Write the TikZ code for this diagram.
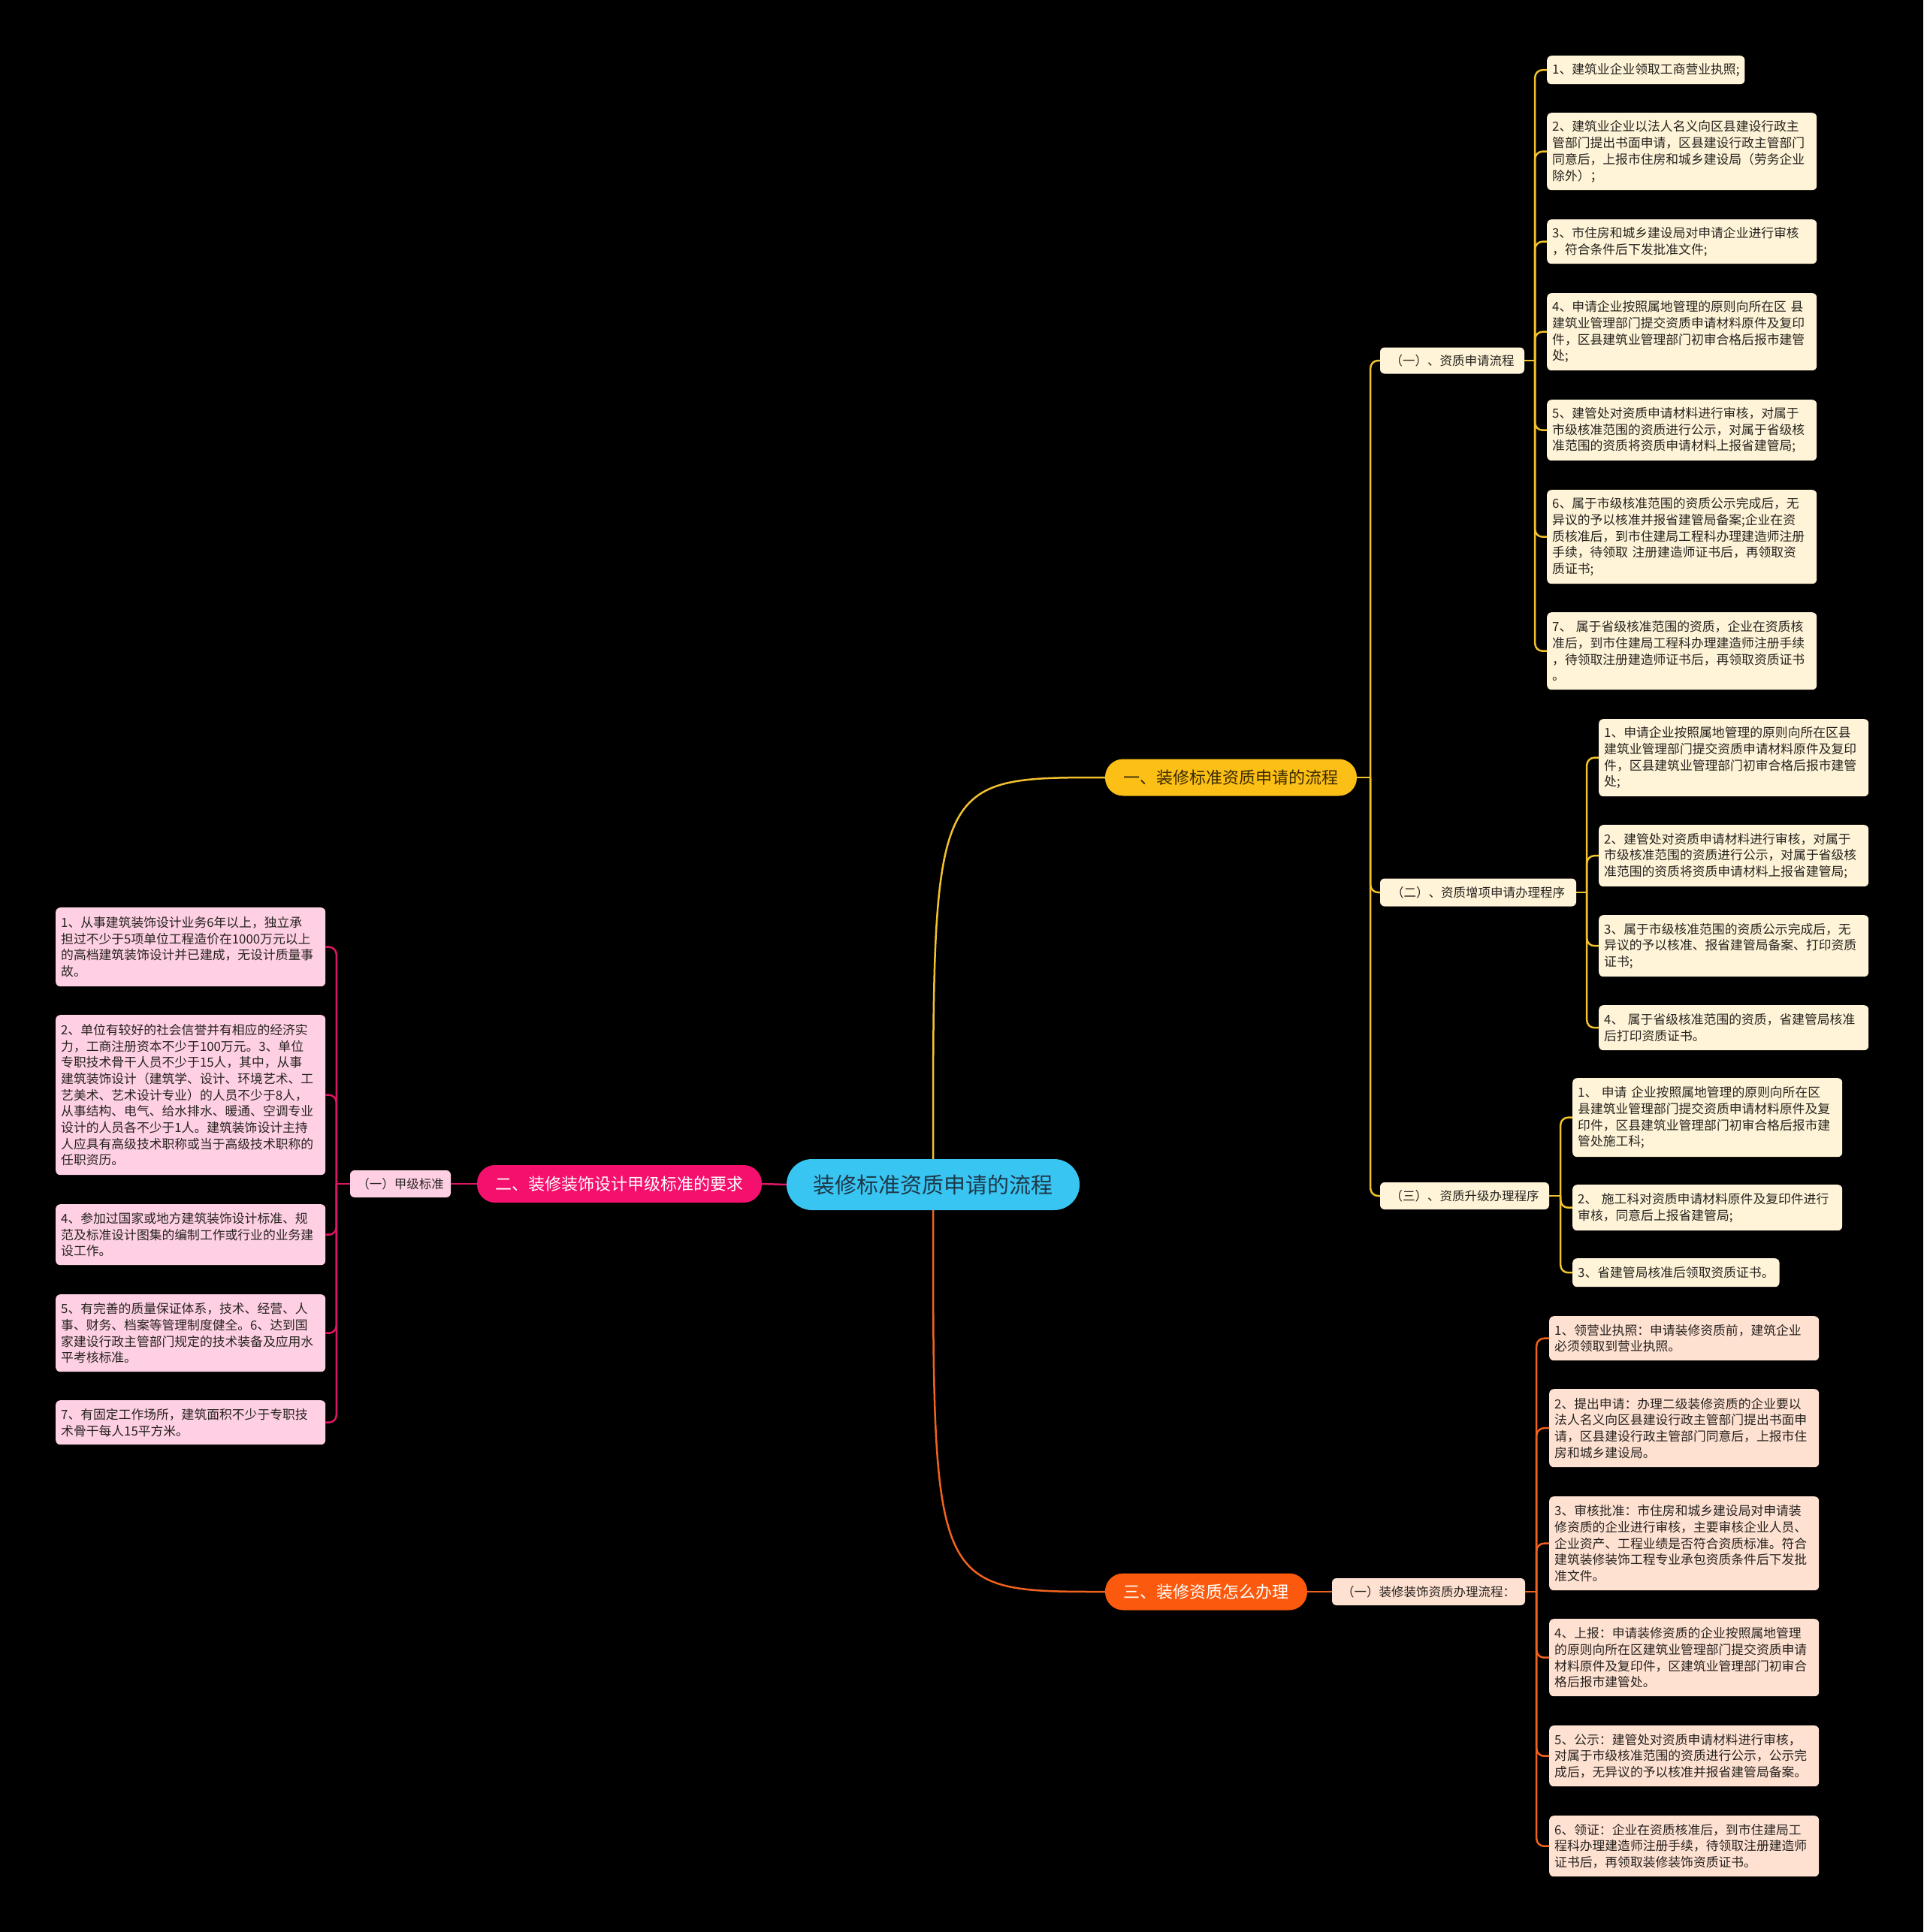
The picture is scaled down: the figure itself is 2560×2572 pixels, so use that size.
\documentclass[tikz,border=0pt]{standalone}
\usepackage{fontspec}
\setmainfont{Noto Sans CJK SC}
\definecolor{rootc}{HTML}{38C5F2}
\definecolor{roottxt}{HTML}{1E3848}
\definecolor{yel}{HTML}{FCBF16}
\definecolor{yeltxt}{HTML}{3A2A00}
\definecolor{ycream}{HTML}{FFF4D8}
\definecolor{ylinec}{HTML}{F2C12E}
\definecolor{pnk}{HTML}{F4106C}
\definecolor{plight}{HTML}{FFD0E4}
\definecolor{plinec}{HTML}{DC1663}
\definecolor{org}{HTML}{FB5A0E}
\definecolor{peach}{HTML}{FFE1D2}
\definecolor{olinec}{HTML}{F0631E}
\definecolor{txt}{HTML}{26231F}
\tikzset{
  every node/.style={font=\fontsize{16.8}{21.7}\selectfont},
  leaf/.style={draw=none, rounded corners=6pt, anchor=north west, inner xsep=7pt, inner ysep=4pt, align=left, text=txt},
  leafw/.style={leaf, text width=345pt},
  ybox/.style={fill=ycream},
  pbox/.style={fill=plight},
  obox/.style={fill=peach},
  midnode/.style={rounded corners=6pt, inner sep=0pt, text=txt, font=\fontsize{16.5}{20}\selectfont},
  lvone/.style={rounded corners=24pt, inner sep=0pt, minimum height=49pt, font=\fontsize{22}{26}\selectfont},
  yl/.style={draw=ylinec, line width=2.5pt},
  pl/.style={draw=plinec, line width=2.5pt},
  ol/.style={draw=olinec, line width=2.5pt},
  brk/.style={rounded corners=10pt}
}
\begin{document}
\begin{tikzpicture}[x=1pt,y=-1pt]
\fill[black] (0,0) rectangle (2560,2572);

% root and level one
\node[fill=rootc, text=roottxt, rounded corners=34pt, inner sep=0pt, minimum width=390pt, minimum height=68pt, font=\fontsize{29}{34}\selectfont] (root) at (1242,1577) {装修标准资质申请的流程};
\node[lvone, fill=yel, text=yeltxt, minimum width=335pt] (n1) at (1638.5,1035) {一、装修标准资质申请的流程};
\node[lvone, fill=pnk, text=white, minimum width=379pt, minimum height=50pt] (n2) at (824.5,1576) {二、装修装饰设计甲级标准的要求};
\node[lvone, fill=org, text=white, minimum width=269pt] (n3) at (1605.5,2119) {三、装修资质怎么办理};

% level two
\node[midnode, fill=ycream, minimum width=192pt, minimum height=35pt] (pa) at (1933,480) {（一）、资质申请流程};
\node[midnode, fill=ycream, minimum width=261pt, minimum height=37pt] (pb) at (1967.5,1188) {（二）、资质增项申请办理程序};
\node[midnode, fill=ycream, minimum width=225pt, minimum height=36pt] (pc) at (1949.5,1592) {（三）、资质升级办理程序};
\node[midnode, fill=peach, minimum width=257pt, minimum height=36pt] (pd) at (1901.5,2119) {（一）装修装饰资质办理流程：};
\node[midnode, fill=plight, minimum width=134pt, minimum height=36pt] (jia) at (533,1576) {（一）甲级标准};

% (一) 资质申请流程 children
\node[leaf, ybox, minimum height=38pt] (a1) at (2059,74) {1、建筑业企业领取工商营业执照;};
\node[leafw, ybox, minimum height=103pt] (a2) at (2059,150) {2、建筑业企业以法人名义向区县建设行政主\\管部门提出书面申请，区县建设行政主管部门\\同意后，上报市住房和城乡建设局（劳务企业\\除外）；};
\node[leafw, ybox, minimum height=59pt] (a3) at (2059,292) {3、市住房和城乡建设局对申请企业进行审核\\，符合条件后下发批准文件;};
\node[leafw, ybox, minimum height=103pt] (a4) at (2059,390) {4、申请企业按照属地管理的原则向所在区~县\\建筑业管理部门提交资质申请材料原件及复印\\件，区县建筑业管理部门初审合格后报市建管\\处;};
\node[leafw, ybox, minimum height=81pt] (a5) at (2059,532) {5、建管处对资质申请材料进行审核，对属于\\市级核准范围的资质进行公示，对属于省级核\\准范围的资质将资质申请材料上报省建管局;};
\node[leafw, ybox, minimum height=125pt] (a6) at (2059,652) {6、属于市级核准范围的资质公示完成后，无\\异议的予以核准并报省建管局备案;企业在资\\质核准后，到市住建局工程科办理建造师注册\\手续，待领取~注册建造师证书后，再领取资\\质证书;};
\node[leafw, ybox, minimum height=103pt] (a7) at (2059,815) {7、~属于省级核准范围的资质，企业在资质核\\准后，到市住建局工程科办理建造师注册手续\\，待领取注册建造师证书后，再领取资质证书\\。};

% (二) children
\node[leafw, ybox, minimum height=103pt] (b1) at (2128,957) {1、申请企业按照属地管理的原则向所在区县\\建筑业管理部门提交资质申请材料原件及复印\\件，区县建筑业管理部门初审合格后报市建管\\处;};
\node[leafw, ybox, minimum height=82pt] (b2) at (2128,1098) {2、建管处对资质申请材料进行审核，对属于\\市级核准范围的资质进行公示，对属于省级核\\准范围的资质将资质申请材料上报省建管局;};
\node[leafw, ybox, minimum height=82pt] (b3) at (2128,1218) {3、属于市级核准范围的资质公示完成后，无\\异议的予以核准、报省建管局备案、打印资质\\证书;};
\node[leafw, ybox, minimum height=60pt] (b4) at (2128,1338) {4、~属于省级核准范围的资质，省建管局核准\\后打印资质证书。};

% (三) children
\node[leafw, ybox, minimum height=105pt] (c1) at (2093,1435) {1、~申请~企业按照属地管理的原则向所在区\\县建筑业管理部门提交资质申请材料原件及复\\印件，区县建筑业管理部门初审合格后报市建\\管处施工科;};
\node[leafw, ybox, minimum height=61pt] (c2) at (2093,1577) {2、~施工科对资质申请材料原件及复印件进行\\审核，同意后上报省建管局;};
\node[leaf, ybox, minimum height=38pt] (c3) at (2093,1675) {3、省建管局核准后领取资质证书。};

% 三 children
\node[leafw, obox, minimum height=59pt] (d1) at (2062,1752) {1、领营业执照：申请装修资质前，建筑企业\\必须领取到营业执照。};
\node[leafw, obox, minimum height=104pt] (d2) at (2062,1849) {2、提出申请：办理二级装修资质的企业要以\\法人名义向区县建设行政主管部门提出书面申\\请，区县建设行政主管部门同意后，上报市住\\房和城乡建设局。};
\node[leafw, obox, minimum height=125pt] (d3) at (2062,1992) {3、审核批准：市住房和城乡建设局对申请装\\修资质的企业进行审核，主要审核企业人员、\\企业资产、工程业绩是否符合资质标准。符合\\建筑装修装饰工程专业承包资质条件后下发批\\准文件。};
\node[leafw, obox, minimum height=103pt] (d4) at (2062,2155) {4、上报：申请装修资质的企业按照属地管理\\的原则向所在区建筑业管理部门提交资质申请\\材料原件及复印件，区建筑业管理部门初审合\\格后报市建管处。};
\node[leafw, obox, minimum height=81pt] (d5) at (2062,2297) {5、公示：建管处对资质申请材料进行审核，\\对属于市级核准范围的资质进行公示，公示完\\成后，无异议的予以核准并报省建管局备案。};
\node[leafw, obox, minimum height=81pt] (d6) at (2062,2417) {6、领证：企业在资质核准后，到市住建局工\\程科办理建造师注册手续，待领取注册建造师\\证书后，再领取装修装饰资质证书。};

% 二 children
\node[leafw, pbox, minimum height=105pt] (l1) at (74,1208) {1、从事建筑装饰设计业务6年以上，独立承\\担过不少于5项单位工程造价在1000万元以上\\的高档建筑装饰设计并已建成，无设计质量事\\故。};
\node[leafw, pbox, minimum height=213pt] (l2) at (74,1351) {2、单位有较好的社会信誉并有相应的经济实\\力，工商注册资本不少于100万元。3、单位\\专职技术骨干人员不少于15人，其中，从事\\建筑装饰设计（建筑学、设计、环境艺术、工\\艺美术、艺术设计专业）的人员不少于8人，\\从事结构、电气、给水排水、暖通、空调专业\\设计的人员各不少于1人。建筑装饰设计主持\\人应具有高级技术职称或当于高级技术职称的\\任职资历。};
\node[leafw, pbox, minimum height=81pt] (l3) at (74,1603) {4、参加过国家或地方建筑装饰设计标准、规\\范及标准设计图集的编制工作或行业的业务建\\设工作。};
\node[leafw, pbox, minimum height=103pt] (l4) at (74,1723) {5、有完善的质量保证体系，技术、经营、人\\事、财务、档案等管理制度健全。6、达到国\\家建设行政主管部门规定的技术装备及应用水\\平考核标准。};
\node[leafw, pbox, minimum height=59pt] (l5) at (74,1864) {7、有固定工作场所，建筑面积不少于专职技\\术骨干每人15平方米。};

% root connectors
\draw[yl] (root.north) .. controls (1242,1035) .. (n1.west);
\draw[ol] (root.south) .. controls (1242,2119) .. (n3.west);
\draw[pl] (root.west) -- (n2.east);

% branch one
\draw[yl] (n1.east) -- ++(18,0);
\foreach \c in {pa,pb,pc} \draw[yl, brk] ([xshift=18pt]n1.east) |- (\c.west);
\draw[yl] (pa.east) -- ++(14,0);
\foreach \c in {a1,a2,a3,a4,a5,a6,a7} \draw[yl, brk] ([xshift=14pt]pa.east) |- (\c.west);
\draw[yl] (pb.east) -- ++(14,0);
\foreach \c in {b1,b2,b3,b4} \draw[yl, brk] ([xshift=14pt]pb.east) |- (\c.west);
\draw[yl] (pc.east) -- ++(15,0);
\foreach \c in {c1,c2,c3} \draw[yl, brk] ([xshift=15pt]pc.east) |- (\c.west);

% branch two
\draw[pl] (n2.west) -- (jia.east);
\draw[pl] (jia.west) -- ++(-18,0);
\foreach \c in {l1,l2,l3,l4,l5} \draw[pl, brk] ([xshift=-18pt]jia.west) |- (\c.east);

% branch three
\draw[ol] (n3.east) -- (pd.west);
\draw[ol] (pd.east) -- ++(15,0);
\foreach \c in {d1,d2,d3,d4,d5,d6} \draw[ol, brk] ([xshift=15pt]pd.east) |- (\c.west);
\end{tikzpicture}
\end{document}
